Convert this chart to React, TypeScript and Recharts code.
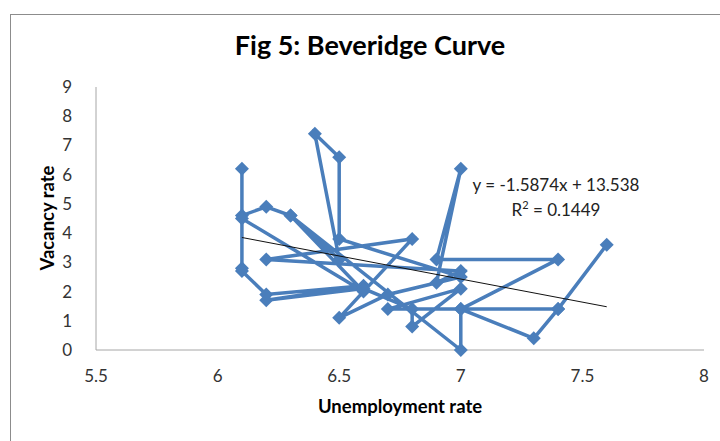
import React from "react";
import { ScatterChart, Scatter, XAxis, YAxis } from "recharts";

// Unemployment / vacancy pairs, in the order the series joins them
const unemployment = [
  6.1, 6.1, 6.2, 6.3, 6.5, 6.4, 6.5, 6.5, 7.0, 6.7, 6.5, 6.8, 6.2, 7.0, 6.9, 7.0, 6.9, 7.4,
  7.0, 7.0, 6.3, 6.6, 6.1, 6.1, 6.1, 6.2, 6.6, 6.2, 6.6, 6.8, 6.8, 7.0, 6.7, 7.4, 7.0, 7.3, 7.4, 7.6
];
const vacancy = [
  6.2, 4.6, 4.9, 4.6, 3.1, 7.4, 6.6, 3.8, 2.5, 1.9, 1.1, 3.8, 3.1, 2.7, 2.3, 6.2, 3.1, 3.1,
  1.4, 0.0, 4.6, 2.0, 4.5, 2.8, 2.7, 1.9, 2.2, 1.7, 2.1, 1.4, 0.8, 2.1, 1.4, 1.4, 1.4, 0.4, 1.4, 3.6
];

// Linear trend endpoints
const trendX = [6.1, 7.6];
const trendY = [3.85, 1.48];

const xTicks = [5.5, 6, 6.5, 7, 7.5, 8];
const yTicks = [0, 1, 2, 3, 4, 5, 6, 7, 8, 9];

const points = unemployment.map((u, i) => ({ x: u, y: vacancy[i] }));
const trend = trendX.map((u, i) => ({ x: u, y: trendY[i] }));

const BLUE = "#4a7ebb";

const Diamond = (props: any) => {
  const { cx, cy } = props;
  const r = 7;
  return (
    <polygon
      points={`${cx},${cy - r} ${cx + r},${cy} ${cx},${cy + r} ${cx - r},${cy}`}
      fill={BLUE}
    />
  );
};

const NoDot = () => <g />;

const font = "Lato, 'Liberation Sans', sans-serif";

export default function App() {
  return (
    <div
      style={{
        position: "absolute",
        left: 0,
        top: 0,
        width: 720,
        height: 441,
        background: "#fff",
        overflow: "hidden",
        fontFamily: font,
      }}
    >
      <div
        style={{
          position: "absolute",
          left: 10,
          top: 14,
          width: 740,
          height: 460,
          border: "1.5px solid #8c8c8c",
        }}
      />
      <div
        style={{
          position: "absolute",
          left: 0,
          top: 28,
          width: 740,
          textAlign: "center",
          fontSize: 27,
          fontWeight: 700,
          color: "#000",
        }}
      >
        Fig 5: Beveridge Curve
      </div>
      <div style={{ position: "absolute", left: 0, top: 0 }}>
        <ScatterChart
          width={720}
          height={441}
          margin={{ top: 87, right: 16, left: 36, bottom: 51 }}
        >
          <XAxis
            type="number"
            dataKey="x"
            domain={[5.5, 8]}
            ticks={xTicks}
            height={40}
            tickLine={false}
            axisLine={{ stroke: "#a6a6a6", strokeWidth: 1 }}
            tick={{ fill: "#333", fontSize: 17, fontFamily: font }}
            tickMargin={14}
            interval={0}
            allowDataOverflow
          />
          <YAxis
            type="number"
            dataKey="y"
            domain={[0, 9]}
            ticks={yTicks}
            width={60}
            tickLine={false}
            axisLine={{ stroke: "#a6a6a6", strokeWidth: 1 }}
            tick={{ fill: "#333", fontSize: 17, fontFamily: font }}
            tickMargin={18}
            interval={0}
          />
          <Scatter
            data={points}
            shape={Diamond}
            line={{ stroke: BLUE, strokeWidth: 3.5 }}
            lineType="joint"
            isAnimationActive={false}
          />
          <Scatter
            data={trend}
            shape={NoDot}
            line={{ stroke: "#111", strokeWidth: 1 }}
            lineType="joint"
            isAnimationActive={false}
          />
        </ScatterChart>
      </div>
      <div
        style={{
          position: "absolute",
          left: 47,
          top: 218,
          transform: "translate(-50%, -50%) rotate(-90deg)",
          fontSize: 18.5,
          fontWeight: 700,
          whiteSpace: "nowrap",
        }}
      >
        Vacancy rate
      </div>
      <div
        style={{
          position: "absolute",
          left: 400,
          top: 395,
          transform: "translateX(-50%)",
          fontSize: 18.5,
          fontWeight: 700,
          whiteSpace: "nowrap",
        }}
      >
        Unemployment rate
      </div>
      <div
        style={{
          position: "absolute",
          left: 556,
          top: 172,
          transform: "translateX(-50%)",
          fontSize: 17,
          color: "#222",
          textAlign: "center",
          lineHeight: "25px",
          whiteSpace: "nowrap",
        }}
      >
        <div>y = -1.5874x + 13.538</div>
        <div>
          R<sup style={{ fontSize: 11, verticalAlign: "top", lineHeight: "16px" }}>2</sup> = 0.1449
        </div>
      </div>
    </div>
  );
}
